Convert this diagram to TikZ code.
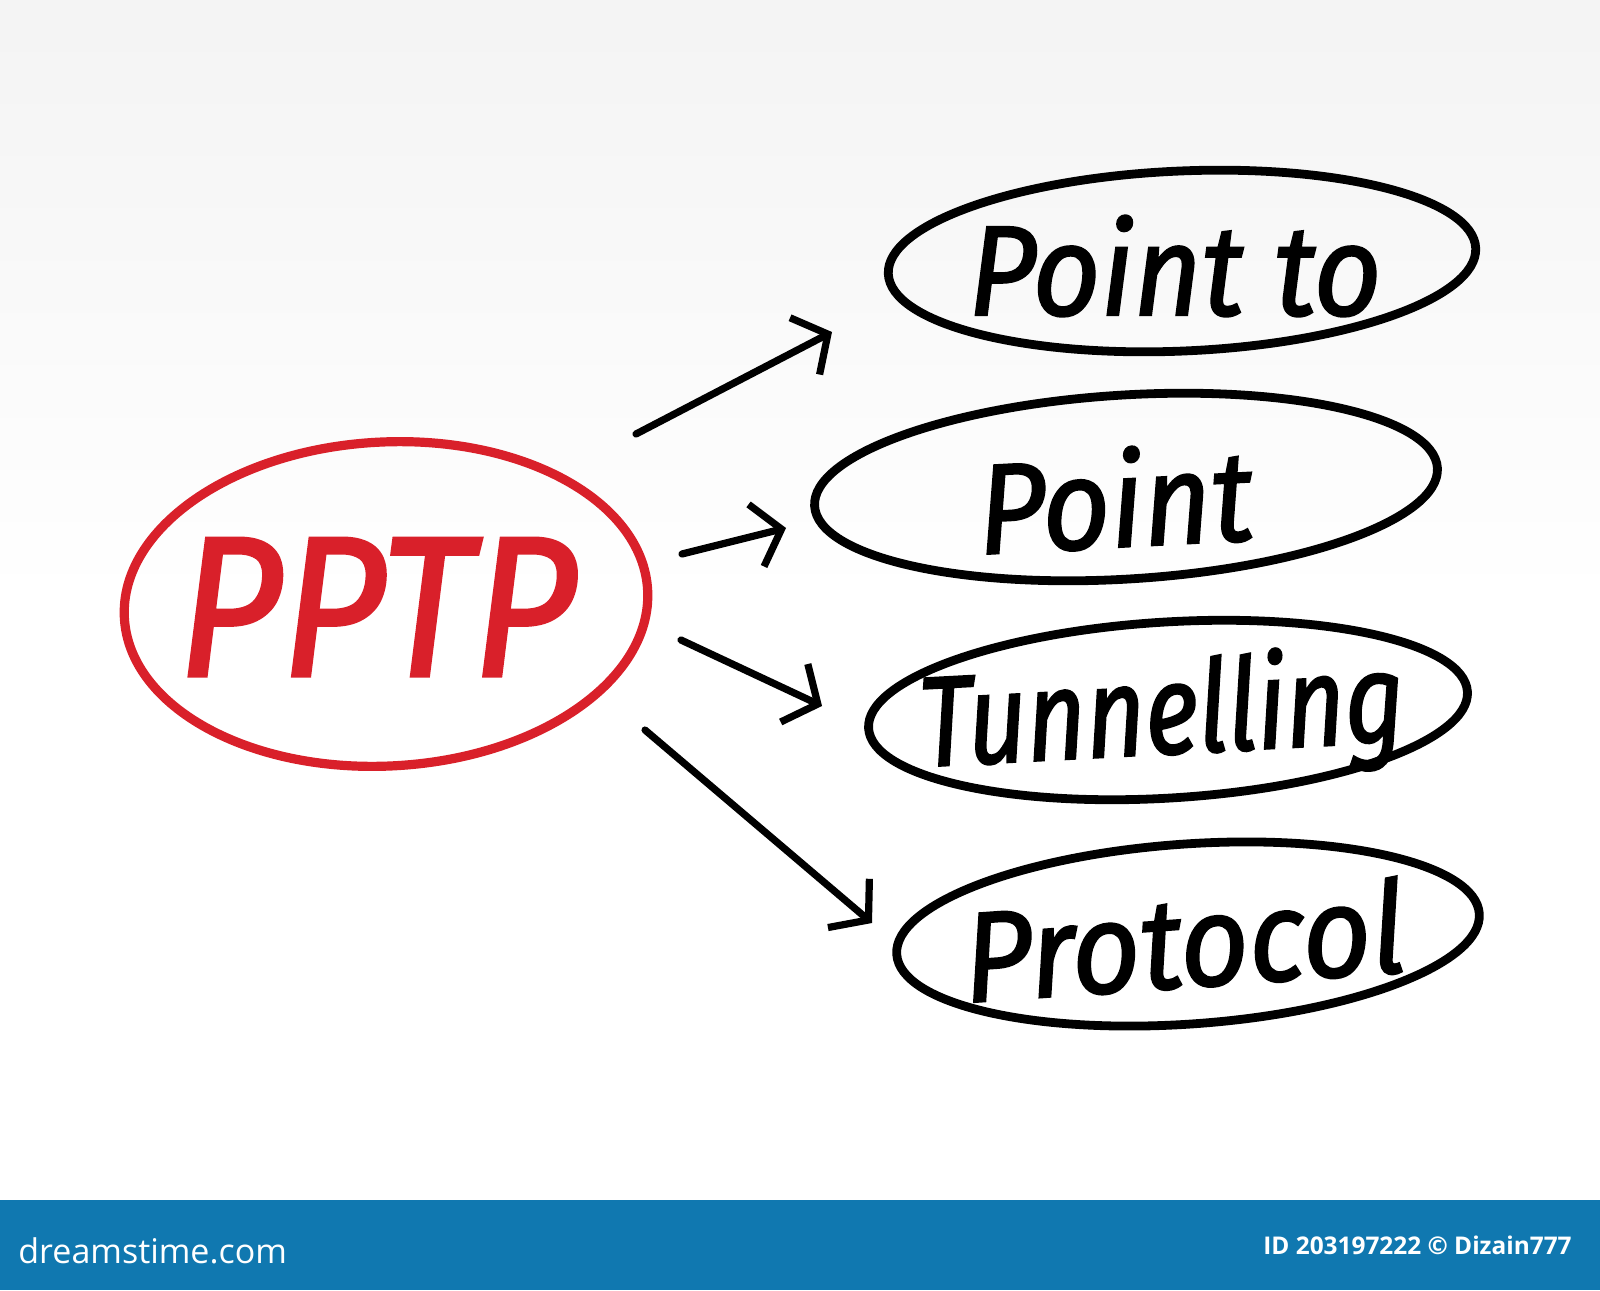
\documentclass[tikz,border=0pt]{standalone}
\usepackage{fontspec}
\setmainfont{Fira Sans}
\newfontfamily\hand{Fira Sans}[ItalicFeatures={FakeBold=1.6}]
\newfontfamily\barfont{Open Sans}
\usetikzlibrary{shapes.geometric,arrows.meta}
\definecolor{pptpred}{HTML}{D9202A}
\definecolor{barblue}{HTML}{1078B0}
\tikzset{
  oval/.style={ellipse, draw=black, line width=4.4pt, inner sep=0pt},
  redoval/.style={ellipse, draw=pptpred, line width=4.6pt, inner sep=0pt},
  word/.style={font=\hand\itshape\fontsize{64}{64}\selectfont\addfontfeatures{FakeStretch=#1}, text=black, inner sep=0pt},
  link/.style={line width=3.6pt, line cap=round, -{Straight Barb[length=13pt,width=32pt,line width=3.6pt]}},
}
\begin{document}
\begin{tikzpicture}[x=0.5pt,y=-0.5pt]
\useasboundingbox (0,0) rectangle (1600,1290);
\shade[top color=gray!9, bottom color=white, middle color=white] (0,0) rectangle (1600,1200);
\fill[barblue] (0,1200) rectangle (1600,1290);
\node[font=\barfont\fontsize{17}{17}\selectfont, text=white, anchor=west, inner sep=0pt] (brand) at (18,1251) {dreamstime.com};
\node[font=\barfont\bfseries\fontsize{12.2}{12.2}\selectfont, text=white, anchor=east, inner sep=0pt] (credit) at (1572,1245) {ID 203197222 © Dizain777};

% red oval
\node[redoval, minimum width=262pt, minimum height=162pt, rotate=3] (pptp) at (386,604) {};
\node[font=\hand\itshape\fontsize{100}{100}\selectfont\addfontfeatures{FakeStretch=0.9}, text=pptpred, inner sep=0pt] (pptptxt) at (377,607) {PPTP};

% black ovals
\node[oval, minimum width=294pt, minimum height=90pt, rotate=2.5] (o1) at (1182,261) {};
\node[word=0.92] (t1) at (1175,266) {Point to};
\node[oval, minimum width=312pt, minimum height=92pt, rotate=3.5] (o2) at (1126,487) {};
\node[word=0.92, rotate=3] (t2) at (1115,498) {Point};
\node[oval, minimum width=300pt, minimum height=88pt, rotate=3.5] (o3) at (1168,710) {};
\node[word=0.8, rotate=3] (t3) at (1162,718) {Tunnelling};
\node[oval, minimum width=292pt, minimum height=90pt, rotate=4] (o4) at (1188,934) {};
\node[word=0.93, rotate=4] (t4) at (1184,940) {Protocol};

% arrow ends
\coordinate (s1) at (636,434); \coordinate (e1) at (832,332);
\coordinate (s2) at (682,554); \coordinate (e2) at (786,528);
\coordinate (s3) at (681,640); \coordinate (e3) at (822,706);
\coordinate (s4) at (645,730); \coordinate (e4) at (872,923);
\draw[link] (s1) -- (e1);
\draw[link] (s2) -- (e2);
\draw[link] (s3) -- (e3);
\draw[link] (s4) -- (e4);
\end{tikzpicture}
\end{document}
